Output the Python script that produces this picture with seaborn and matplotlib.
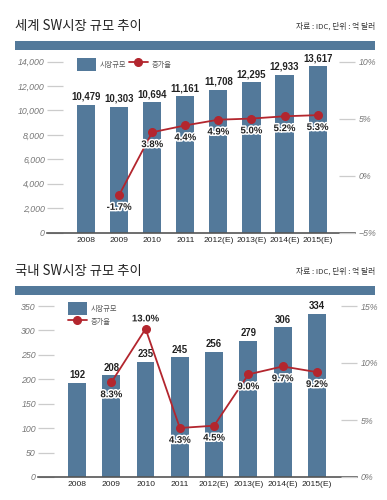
import matplotlib
matplotlib.use('Agg')
import numpy as np
import seaborn as sns
import matplotlib.pyplot as plt
import matplotlib.patheffects as pe
from matplotlib.patches import Patch, Rectangle
from matplotlib.lines import Line2D

years = ['2008', '2009', '2010', '2011', '2012(E)', '2013(E)', '2014(E)', '2015(E)']

world_size = [10479, 10303, 10694, 11161, 11708, 12295, 12933, 13617]
world_rate = [np.nan, -1.7, 3.8, 4.4, 4.9, 5.0, 5.2, 5.3]

korea_size = [192, 208, 235, 245, 256, 279, 306, 334]
korea_rate = [np.nan, 8.3, 13.0, 4.3, 4.5, 9.0, 9.7, 9.2]

world_left_ticks = [0, 2000, 4000, 6000, 8000, 10000, 12000, 14000]
world_right_ticks = [-5, 0, 5, 10]
korea_left_ticks = [0, 50, 100, 150, 200, 250, 300, 350]
korea_right_ticks = [0, 5, 10, 15]

BLUE = '#53799a'
RED = '#b3262e'
W, H = 387, 500

sns.set_theme(style='white')
plt.rcParams['font.family'] = ['Liberation Sans', 'Noto Sans CJK KR']
plt.rcParams['axes.unicode_minus'] = True

fig = plt.figure(figsize=(W / 100, H / 100), dpi=100)


def rect(l, t, r, b):
    return [l / W, 1 - b / H, (r - l) / W, (b - t) / H]


def header(title, y_title, y_banner):
    fig.text(15 / W, 1 - y_title / H, title, fontsize=9.6, va='center', ha='left',
             family=['Noto Sans CJK KR'], color='#222', fontweight='medium')
    fig.patches.append(Rectangle((15 / W, 1 - (y_banner + 9) / H), 360 / W, 9 / H,
                                 transform=fig.transFigure, color=BLUE, lw=0))
    fig.text(375 / W, 1 - y_title / H, '자료 : IDC, 단위 : 억 달러', fontsize=5.6,
             ha='right', va='center', color='#333', family=['Noto Sans CJK KR'])


def panel(box, sizes, rates, lticks, ltlabels, rticks, rtlabels, ylim, rlim, xlim,
          above, legend_anchor, ncol, bar_w):
    ax = fig.add_axes(rect(*box))
    sns.barplot(x=years, y=sizes, ax=ax, color=BLUE, saturation=1, width=bar_w, linewidth=0)
    ax.bar_label(ax.containers[0], labels=[f'{v:,}' for v in sizes], padding=2,
                 fontsize=6.9, fontweight='bold', color='#222')
    ax.set_ylim(*ylim)
    ax.set_yticks(lticks)
    ax.set_yticklabels(ltlabels, fontsize=6.3, style='italic', color='#777')
    ax.tick_params(axis='y', direction='in', length=11.5, width=0.9, color='#cccccc', pad=1.5,
                   left=True)
    ax.tick_params(axis='x', length=0, pad=3, labelsize=6.1, labelcolor='#222')
    for s in ['top', 'left', 'right']:
        ax.spines[s].set_visible(False)
    ax.spines['bottom'].set_color('#555555')
    ax.spines['bottom'].set_linewidth(1.2)
    ax.set_xlabel('')
    ax.set_ylabel('')

    ax2 = ax.twinx()
    sns.pointplot(x=years, y=rates, order=years, ax=ax2, color=RED, markers='o',
                  markersize=5.5, linewidth=1.3, errorbar=None)
    ax2.set_ylim(*rlim)
    ax2.set_yticks(rticks)
    ax2.set_yticklabels(rtlabels, fontsize=6.3, style='italic', color='#777')
    ax2.tick_params(axis='y', direction='in', length=11.5, width=0.9, color='#cccccc', pad=2.5,
                    right=True)
    for s in ['top', 'left', 'right', 'bottom']:
        ax2.spines[s].set_visible(False)
    ax2.set_ylabel('')
    ax2.grid(False)
    ax.grid(False)
    ax.set_xlim(*xlim)

    for i, v in enumerate(rates):
        if np.isnan(v):
            continue
        dy = 7.5 if i in above else -8.5
        ax2.annotate(f'{v:.1f}%', (i, v), xytext=(0, dy), textcoords='offset points',
                     ha='center', va='center', fontsize=6.9, fontweight='bold', color='#222',
                     path_effects=[pe.withStroke(linewidth=2.2, foreground='white')])

    handles = [Patch(facecolor=BLUE, edgecolor='none', label='시장규모'),
               Line2D([], [], color=RED, marker='o', markersize=5.5, lw=1.3, label='증가율')]
    ax2.legend(handles=handles, loc='upper left', ncol=ncol, frameon=False, fontsize=5.2,
               bbox_to_anchor=(legend_anchor[0] / W, 1 - legend_anchor[1] / H),
               bbox_transform=fig.transFigure, borderpad=0, borderaxespad=0,
               handlelength=2.6, handleheight=2.45, handletextpad=0.6, columnspacing=0.3,
               labelspacing=0, labelcolor='#555')
    return ax, ax2


header('세계 SW시장 규모 추이', 26, 41)
panel((47, 61.5, 355, 232.7), world_size, world_rate,
      world_left_ticks, [f'{v:,}' for v in world_left_ticks],
      world_right_ticks, ['−5%', '0%', '5%', '10%'],
      (0, 14000), (-5, 10), (-1.18, 8.13), above=set(),
      legend_anchor=(77, 58), ncol=2, bar_w=0.55)

header('국내 SW시장 규모 추이', 271, 286)
panel((38, 306, 357, 477), korea_size, korea_rate,
      korea_left_ticks, [str(v) for v in korea_left_ticks],
      korea_right_ticks, ['0%', '5%', '10%', '15%'],
      (0, 350), (0, 15), (-1.14, 8.17), above={2},
      legend_anchor=(68, 302), ncol=1, bar_w=0.52)

fig.savefig('out.png', dpi=100)
